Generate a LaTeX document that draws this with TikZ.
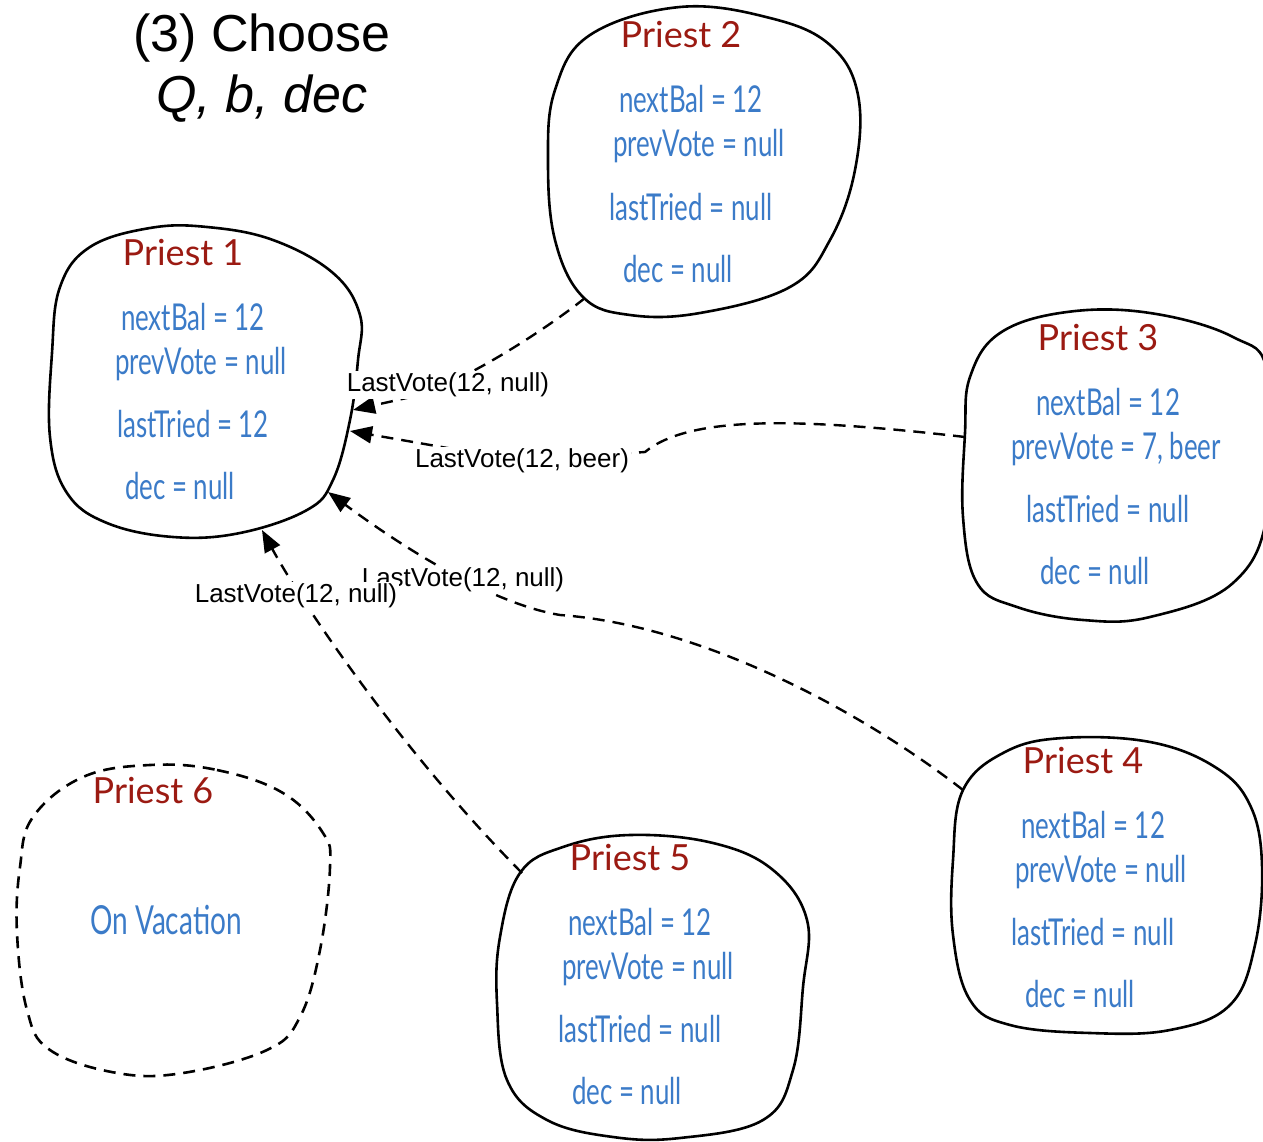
\documentclass[tikz,border=0pt]{standalone}
\usepackage{fontspec}
\setmainfont{Liberation Sans}
\newfontfamily\handfont[FakeStretch=0.7]{Lato}
\newfontfamily\headfont{Lato}
\usetikzlibrary{arrows.meta}
\definecolor{headred}{HTML}{9B1A12}
\definecolor{bodyblue}{HTML}{3B7BC8}
\tikzset{
  blob/.style={draw=black, line width=2.6pt, line join=round},
  awayblob/.style={blob, dashed, dash pattern=on 12pt off 8pt},
  head/.style={anchor=base, text=headred, font=\headfont\fontsize{36}{36}\selectfont, inner sep=0pt},
  body/.style={anchor=base, text=bodyblue, font=\handfont\fontsize{37}{37}\selectfont, inner sep=0pt},
  msg/.style={draw=black, line width=2.4pt, dash pattern=on 12pt off 8pt,
    -{Triangle[length=22pt,width=17pt]}},
  msglabel/.style={fill=white, inner xsep=2pt, inner ysep=2pt, font=\fontsize{26}{26}\selectfont},
  title/.style={font=\fontsize{52}{60}\selectfont, align=center}
}
% heading plus the four state lines of one priest
\newcommand\priesttext[7]{%
  \node[head] (#1h) at #2 {#3};
  \node[body] (#1a) at ([shift={(10,65)}]#1h.base) {#4};
  \node[body] (#1b) at ([shift={(18,109)}]#1h.base) {#5};
  \node[body] (#1c) at ([shift={(10,172)}]#1h.base) {#6};
  \node[body] (#1d) at ([shift={(-3,234)}]#1h.base) {#7};
}
\begin{document}
\begin{tikzpicture}[x=1pt,y=-1pt]
\useasboundingbox (0,0) rectangle (1263,1142);

% title
\node[title] (ttl) at (262,68) {(3) Choose\\[1pt] \textit{Q, b, dec}};

% priest outlines
\draw[blob] plot[smooth cycle, tension=0.65] coordinates {
  (150,228) (207,227) (273,240) (333,273) (360,315) (358,360) (350,420)
  (333,480) (307,510) (240,533) (173,537) (107,523) (67,493) (50,437)
  (52,353) (60,287) (90,247)};
\draw[blob] plot[smooth cycle, tension=0.65] coordinates {
  (680,7) (770,18) (830,45) (858,95) (855,170) (830,240) (790,287)
  (700,313) (630,315) (583,297) (555,240) (548,160) (555,90) (590,35)};
\draw[blob] plot[smooth cycle, tension=0.65] coordinates {
  (1067,312) (1150,313) (1233,337) (1268,375) (1268,510) (1233,583)
  (1150,617) (1083,620) (1017,607) (977,583) (963,517) (965,433)
  (970,377) (1000,333)};
\draw[blob] plot[smooth cycle, tension=0.65] coordinates {
  (1063,738) (1150,742) (1215,767) (1250,805) (1262,865) (1255,945)
  (1230,1005) (1170,1030) (1090,1033) (1010,1025) (970,1000) (953,935)
  (953,860) (963,790) (1005,752)};
\draw[blob] plot[smooth cycle, tension=0.65] coordinates {
  (630,835) (713,843) (773,870) (807,920) (803,987) (793,1070)
  (763,1120) (680,1138) (613,1137) (547,1120) (507,1080) (497,1003)
  (500,937) (520,873) (563,847)};
\draw[awayblob] plot[smooth cycle, tension=0.65] coordinates {
  (150,765) (217,770) (283,793) (323,833) (330,867) (320,950)
  (300,1017) (267,1050) (183,1073) (117,1073) (50,1050) (27,1010)
  (17,933) (20,867) (33,817) (83,777)};

% priest states
\priesttext{pa}{(183,265)}{Priest 1}{nextBal = 12}{prevVote = null}{lastTried = 12}{dec = null}
\priesttext{pb}{(681,48)}{Priest 2}{nextBal = 12}{prevVote = null}{lastTried = null}{dec = null}
\priesttext{pc}{(1098,350)}{Priest 3}{nextBal = 12}{prevVote = 7, beer}{lastTried = null}{dec = null}
\priesttext{pd}{(1083,773)}{Priest 4}{nextBal = 12}{prevVote = null}{lastTried = null}{dec = null}
\priesttext{pe}{(630,870)}{Priest 5}{nextBal = 12}{prevVote = null}{lastTried = null}{dec = null}
\node[head] (pfh) at (153,803) {Priest 6};
\node[body, font=\handfont\fontsize{40}{40}\selectfont] (pfa) at (166,934) {On Vacation};

% connector end points on the outlines
\coordinate (p1a) at (353,410);
\coordinate (p1b) at (350,431);
\coordinate (p1c) at (328,492);
\coordinate (p1d) at (262,530);
\coordinate (p2s) at (585,298);
\coordinate (p3s) at (965,437);
\coordinate (p4s) at (963,790);
\coordinate (p5s) at (522,873);

% LastVote messages sent to priest 1
\draw[msg] (p2s) .. controls (545,330) and (470,378) .. (420,395) -- (p1a);
\draw[msg] (p3s) .. controls (800,418) and (690,415) .. (645,452) -- (522,461) -- (p1b);
\draw[msg] (p4s) .. controls (860,710) and (700,625) .. (560,615)
  .. controls (500,605) and (420,560) .. (p1c);
\draw[msg] (p5s) .. controls (400,750) and (300,600) .. (p1d);

\node[msglabel] (m1) at (448,385) {LastVote(12, null)};
\node[msglabel] (m2) at (522,461) {LastVote(12, beer)};
\node[msglabel] (m3) at (463,580) {LastVote(12, null)};
\node[msglabel] (m4) at (296,596) {LastVote(12, null)};
\end{tikzpicture}
\end{document}
